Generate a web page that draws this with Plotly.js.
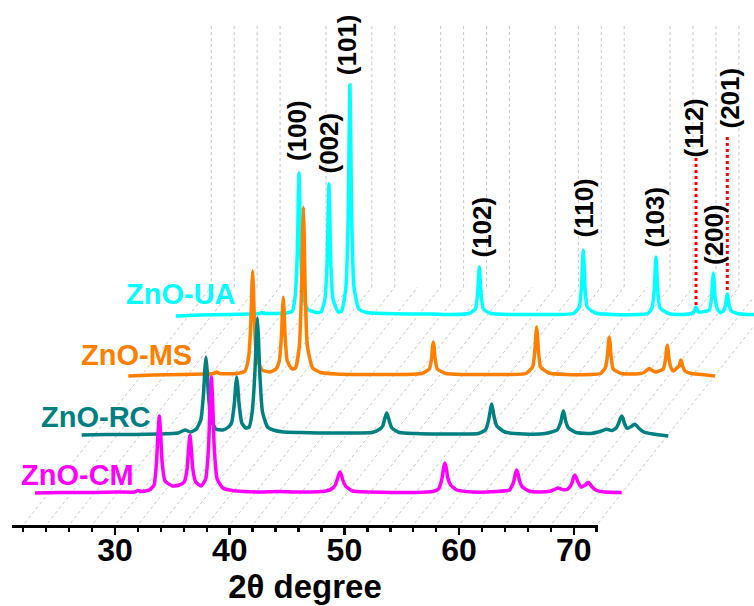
<!DOCTYPE html>
<html>
<head>
<meta charset="utf-8">
<script src="https://cdn.plot.ly/plotly-3.0.1.min.js"></script>
<style>html,body{margin:0;padding:0;background:#fff;}#chart{width:754px;height:606px;}</style>
</head>
<body>
<div id="chart"></div>
<script>
// ---------------- data (2θ in degrees, intensity in a.u.) ----------------
const sampleNames = ["ZnO-UA", "ZnO-MS", "ZnO-RC", "ZnO-CM"];

const ua2t = [20.85,23,25.5,27.3,28.1,28.33,28.6,29.5,30.5,31.0,
  31.23,31.43,31.51,31.58,31.65,31.73,31.93,32.4,32.7,33.0,33.5,
  33.84,34.04,34.12,34.19,34.26,34.34,34.54,35.0,35.3,
  35.67,35.87,35.95,36.02,36.09,36.17,36.37,36.8,37.5,39,41,43,45,46.4,46.95,
  47.15,47.23,47.30,47.37,47.45,47.65,48.3,50,52,54,55.5,56.01,
  56.21,56.29,56.36,56.43,56.51,56.71,57.4,59,61,62.0,62.35,
  62.55,62.63,62.70,62.77,62.85,63.05,63.8,65,65.8,66.0,66.19,66.4,67.35,
  67.55,67.63,67.70,67.77,67.85,68.05,68.3,68.57,
  68.77,68.85,68.92,68.99,69.07,69.27,69.8,70.7,72.0];
const uaInt = [-1,0,0.5,1,1.5,2.5,1.5,1.5,2,4,
  17,61,111,142,111,61,17,5,4,2.5,3,
  16,56,102,131,102,56,16,3,4,
  28,99,179,230,179,99,28,6,2.5,1.5,1,1,0.5,1.5,6,
  21,37,48,37,21,6,1.5,0.5,0.5,0.5,1.5,8,
  28,51,65,51,28,8,2,0.5,0.5,1.5,7,
  25,45,58,45,25,7,1.5,0.5,1.5,3,8,3,5,
  18,33,42,33,18,6,2.5,4,
  10,17,21,17,10,4,1.5,0.5,0.5];

const ms2t = [20.83,23,25.5,27.5,28.3,28.54,28.8,30.3,31.0,
  31.32,31.52,31.60,31.67,31.74,31.82,32.02,32.5,33.2,33.7,
  33.99,34.19,34.27,34.34,34.41,34.49,34.69,35.1,35.4,
  35.74,35.94,36.02,36.09,36.16,36.24,36.44,36.9,37.6,39,41,43,45,46.4,47.07,
  47.27,47.35,47.42,47.49,47.57,47.77,48.5,50,52,54,55.5,56.08,
  56.28,56.36,56.43,56.50,56.58,56.78,57.5,59,61,62.0,62.41,
  62.61,62.69,62.76,62.83,62.91,63.11,63.8,65,65.8,66.05,66.25,66.45,66.8,67.47,
  67.67,67.75,67.82,67.89,67.97,68.15,68.35,68.66,
  68.86,68.94,69.01,69.08,69.16,69.36,69.9,70.8,71.98];
const msInt = [-1,0,0.5,1,1.5,3,1.5,1.5,4,
  18,55,87,104,87,55,18,5,3,6,
  14,41,65,78,65,41,14,6,7,
  29,89,141,168,141,89,29,7,2.5,1,0.5,0.5,0.5,1.5,6,
  17,28,33,28,17,6,1.5,0.5,0.5,0.5,1.5,8,
  25,40,48,40,25,8,2,0.5,0.5,1.5,7,
  20,32,38,32,20,6,1.5,1,2.5,5,6.5,5,3,6,
  16,25,30,25,16,7,4,7,
  9,13,15,13,9,4,1.5,0.5,-1];

const rc2t = [20.90,23,25.5,27.5,29.3,29.9,30.4,30.9,
  31.28,31.53,31.63,31.73,31.83,31.93,32.18,32.6,33.2,33.7,
  33.96,34.21,34.31,34.41,34.51,34.61,34.86,35.2,35.5,
  35.76,36.01,36.11,36.21,36.31,36.41,36.66,37.1,37.6,38.5,40,41.5,43,44.5,46.2,46.9,
  47.14,47.29,47.39,47.49,47.59,47.69,47.94,48.6,50,52,54,55.5,56.1,
  56.29,56.44,56.54,56.64,56.74,56.84,57.09,57.8,59.5,61.3,62.35,
  62.54,62.69,62.79,62.89,62.99,63.09,63.34,64,65.3,66.1,66.67,67.1,67.5,
  67.68,67.78,67.88,67.98,68.08,68.2,68.45,68.72,
  68.94,69.04,69.14,69.26,69.45,69.9,70.7,72.04];
const rcInt = [0,0.5,0.5,1,2,5,3,6,
  15,43,65,78,65,43,15,6,5,8,
  12,32,48,58,48,32,12,7,8,
  23,65,97,117,97,65,23,8,5,3,2.5,2,2,2,2.5,6,
  9,15,19,22,19,15,7,2.5,1.5,1,1,1.5,5,
  11,19,26,31,26,19,9,3,1,1.5,5,
  9,14,20,24,20,14,7,2.5,1.5,3.5,5.7,4.5,7,
  11,14,17,19,17,12,6.7,8,
  9.5,10.5,10.7,9.5,7,3,1,-1];

const cm2t = [20.82,23,26,28,29.5,29.8,30.1,30.8,
  31.2,31.41,31.54,31.66,31.78,31.91,32.16,32.8,33.4,
  33.83,34.08,34.21,34.33,34.45,34.58,34.83,35.3,
  35.7,35.95,36.08,36.2,36.32,36.45,36.7,37.2,38,39,40.5,42,43.5,45,46.2,46.8,
  47.0,47.16,47.29,47.41,47.53,47.66,47.9,48.5,50,52,54,55.5,56.0,
  56.15,56.31,56.44,56.56,56.68,56.81,57.06,57.6,59,61,62.2,
  62.4,62.57,62.7,62.82,62.94,63.07,63.32,63.9,64.8,65.8,66.1,66.44,66.8,67.2,
  67.5,67.66,67.78,67.9,68.02,68.2,68.45,68.65,
  68.82,68.94,69.06,69.2,69.4,69.8,70.5,71.97];
const cmInt = [0,0.5,0.5,1,1,2.5,1.5,3,
  8,30,58,77,58,30,12,7,8,
  11,24,44,58,44,24,11,7,
  14,45,88,116,88,45,14,5,2.5,1.5,1,1.5,1,1,2,5,
  8,13,18,21,18,13,7,2,1,0.5,0.5,1.5,4,
  8,15,25,30,25,15,8,3,1,1.5,3,
  7,12,19,23,19,12,6,2,1,2,3.5,5,3.5,3.5,
  7,11,16,18,15,10,6,7,
  8,10,10.6,9,6,2.5,1,0.5];

const series = {
  "ZnO-UA": {x: ua2t, y: uaInt},
  "ZnO-MS": {x: ms2t, y: msInt},
  "ZnO-RC": {x: rc2t, y: rcInt},
  "ZnO-CM": {x: cm2t, y: cmInt}
};

const peakLabels = ["(100)","(002)","(101)","(102)","(110)","(103)","(112)","(200)","(201)"];
const majorTicks = [30, 40, 50, 60, 70];
const minorTicks = [22,24,26,28,32,34,36,38,42,44,46,48,52,54,56,58,62,64,66,68,72];
const floorGrid = [22,24,26,28,30,32,34,36,38,40,42,44,46,48,50,52,54,56,58,60,62,64,66,68,70,72];
const wallGrid  = [22,24,26,28,32,36,38,42,44,46,48,52,54,56,58,62,64,66,68,70,72];

// ---------------- layout / projection constants ----------------
const W = 754, H = 606, B = 81;
const PH = H - B;
const PXDEG = 11.47, PX30 = 115;
const SLOPE = 0.79;
const xMin = 30 - PX30 / PXDEG, xMax = 30 + (W - PX30) / PXDEG;
const depthShift = h => SLOPE * h / PXDEG;
const depth = {"ZnO-UA": 210, "ZnO-MS": 150, "ZnO-RC": 90, "ZnO-CM": 32};
const colors = {"ZnO-UA": "#00FFFF", "ZnO-MS": "#FF7F00", "ZnO-RC": "#008080", "ZnO-CM": "#FF00FF"};
const WALL_H = 238, WALL_TOP = 500;

const traces = sampleNames.map(n => ({
  type: "scatter", mode: "lines", name: n,
  x: series[n].x.map(v => v + depthShift(depth[n])),
  y: series[n].y.map(v => v + depth[n]),
  xaxis: "x2", yaxis: "y",
  line: {color: colors[n], width: 3.5, shape: "spline", smoothing: 0.5},
  hoverinfo: "skip", showlegend: false
}));
traces.unshift({type: "scatter", mode: "lines", x: [], y: [], xaxis: "x", yaxis: "y", showlegend: false, hoverinfo: "skip"});

const shapes = [];
const grid = {color: "#c8c8c8", width: 1, dash: "dot"};
floorGrid.forEach(d => shapes.push({type: "line", xref: "x2", yref: "y", layer: "below",
  x0: d + depthShift(2), y0: 2, x1: d + depthShift(WALL_H), y1: WALL_H, line: grid}));
wallGrid.forEach(d => shapes.push({type: "line", xref: "x2", yref: "y", layer: "below",
  x0: d + depthShift(WALL_H), y0: WALL_H, x1: d + depthShift(WALL_H), y1: WALL_TOP, line: grid}));

const px2x = px => xMin + px / PXDEG;
const py2y = py => PH - py;
[[696, 158, 307], [727.3, 137, 293]].forEach(r => shapes.push({type: "line", xref: "x2", yref: "y",
  x0: px2x(r[0]), x1: px2x(r[0]), y0: py2y(r[1]), y1: py2y(r[2]),
  line: {color: "#FF0000", width: 3, dash: "dot"}}));

const bold = (size, color) => ({family: "Liberation Sans, Arial, sans-serif", size: size, color: color || "#000", weight: "bold"});

const labelPos = [[297,131],[328.5,143],[346.7,44.5],[481,227.5],[583.5,208],[654.5,217],[693.5,128],[714,235],[729.5,98]];
const annotations = peakLabels.map((t, i) => ({
  text: t, textangle: -90, showarrow: false, xref: "paper", yref: "paper",
  x: labelPos[i][0] / W, y: (PH - labelPos[i][1]) / PH, xanchor: "center", yanchor: "middle",
  font: bold(26)
}));
const namePos = {"ZnO-UA": [238, 294], "ZnO-MS": [194, 355], "ZnO-RC": [153, 417], "ZnO-CM": [136, 475]};
sampleNames.forEach(n => annotations.push({
  text: n, showarrow: false, xref: "paper", yref: "paper",
  x: namePos[n][0] / W, y: (PH - namePos[n][1]) / PH, xanchor: "right", yanchor: "middle",
  font: bold(29, colors[n])
}));

const layout = {
  width: W, height: H,
  margin: {l: 0, r: 0, t: 0, b: B, pad: 0},
  paper_bgcolor: "#fff", plot_bgcolor: "rgba(0,0,0,0)",
  showlegend: false,
  xaxis: {
    domain: [12 / W, 598 / W], range: [30 - 103 / PXDEG, 30 + 483 / PXDEG],
    anchor: "y", showgrid: false, zeroline: false,
    showline: true, linecolor: "#000", linewidth: 3,
    tickmode: "array", tickvals: majorTicks,
    ticks: "outside", ticklen: 7, tickwidth: 2.5, tickcolor: "#000",
    minor: {tickmode: "array", tickvals: minorTicks, ticks: "outside", ticklen: 4, tickwidth: 2.5, tickcolor: "#000", showgrid: false},
    tickfont: bold(32), ticklabelstandoff: -12,
    title: {text: "2θ degree", font: bold(33), standoff: 6},
    automargin: false, fixedrange: true
  },
  xaxis2: {domain: [0, 1], range: [xMin, xMax], anchor: "y", visible: false, fixedrange: true},
  yaxis: {domain: [0, 1], range: [0, PH], anchor: "x", visible: false, fixedrange: true},
  shapes: shapes,
  annotations: annotations
};

Plotly.newPlot("chart", traces, layout, {staticPlot: true, displayModeBar: false});
</script>
</body>
</html>
